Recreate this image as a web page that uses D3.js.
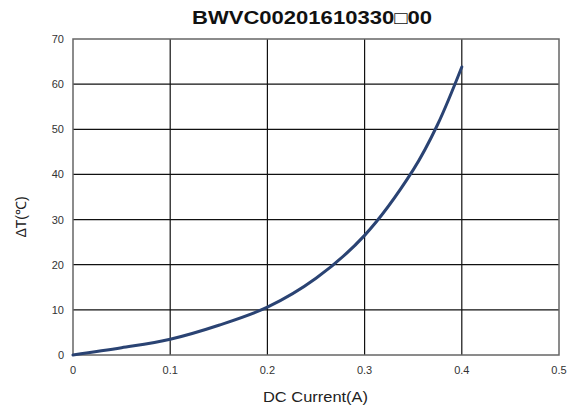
<!DOCTYPE html>
<html>
<head>
<meta charset="utf-8">
<script src="https://cdn.jsdelivr.net/npm/d3@7"></script>
<style>
  body { margin: 0; background: #fff; }
  svg text { font-family: "Liberation Sans", Arial, sans-serif; }
</style>
</head>
<body>
<svg id="chart"></svg>
<script>
// chart data
var title = 'BWVC00201610330\u25A100';
var current = [0, 0.05, 0.1, 0.15, 0.2, 0.25, 0.3, 0.35, 0.375, 0.4];
var deltaT  = [0, 1.6, 3.5, 6.6, 10.6, 17, 26.5, 41, 51, 63.8];
var xTicks = [0, 0.1, 0.2, 0.3, 0.4, 0.5];
var yTicks = [0, 10, 20, 30, 40, 50, 60, 70];

var draw = function(){
    var width = 574, height = 410;
    var margin = {left: 73, right: 15, top: 39, bottom: 55};

    var svg = d3.select('svg#chart')
    .attr('width', width)
    .attr('height', height);

    var x = d3.scaleLinear().domain([0, 0.5]).range([margin.left, width - margin.right]);
    var y = d3.scaleLinear().domain([0, 70]).range([height - margin.bottom, margin.top]);

    // grid
    svg.append('g')
    .selectAll('line')
    .data(xTicks.slice(1, -1))
    .enter().append('line')
    .attr('x1', d => x(d)).attr('x2', d => x(d))
    .attr('y1', y(0)).attr('y2', y(70))
    .attr('stroke', '#111').attr('stroke-width', 1.2);

    svg.append('g')
    .selectAll('line')
    .data(yTicks.slice(1, -1))
    .enter().append('line')
    .attr('x1', x(0)).attr('x2', x(0.5))
    .attr('y1', d => y(d)).attr('y2', d => y(d))
    .attr('stroke', '#111').attr('stroke-width', 1.2);

    // frame
    svg.append('rect')
    .attr('x', x(0)).attr('y', y(70))
    .attr('width', x(0.5) - x(0)).attr('height', y(0) - y(70))
    .attr('fill', 'none').attr('stroke', '#666').attr('stroke-width', 1.5);

    // tick labels
    svg.append('g')
    .selectAll('text')
    .data(yTicks)
    .enter().append('text')
    .attr('x', x(0) - 9).attr('y', d => y(d) + 4)
    .attr('text-anchor', 'end')
    .attr('font-size', 11).attr('fill', '#333')
    .text(d => d);

    svg.append('g')
    .selectAll('text')
    .data(xTicks)
    .enter().append('text')
    .attr('x', d => x(d)).attr('y', y(0) + 19)
    .attr('text-anchor', 'middle')
    .attr('font-size', 11).attr('fill', '#333')
    .text(d => d);

    // curve
    var pts = current.map((c, i) => [c, deltaT[i]]);
    var line = d3.line()
    .x(d => x(d[0]))
    .y(d => y(d[1]))
    .curve(d3.curveCatmullRom);

    svg.append('path')
    .datum(pts)
    .attr('d', line)
    .attr('fill', 'none')
    .attr('stroke', '#2a4373')
    .attr('stroke-width', 3)
    .attr('stroke-linecap', 'round');

    // titles
    svg.append('text')
    .attr('x', 192).attr('y', 24)
    .attr('textLength', 240).attr('lengthAdjust', 'spacingAndGlyphs')
    .attr('font-size', 18).attr('font-weight', 'bold').attr('fill', '#111')
    .text(title);

    svg.append('text')
    .attr('x', 263).attr('y', 402)
    .attr('textLength', 105).attr('lengthAdjust', 'spacingAndGlyphs')
    .attr('font-size', 15).attr('fill', '#222')
    .text('DC Current(A)');

    svg.append('text')
    .attr('transform', 'translate(26,' + 217 + ') rotate(-90)')
    .attr('text-anchor', 'middle')
    .attr('font-size', 14).attr('fill', '#222')
    .text('\u0394T(\u2103)');
}

draw();
</script>
</body>
</html>
